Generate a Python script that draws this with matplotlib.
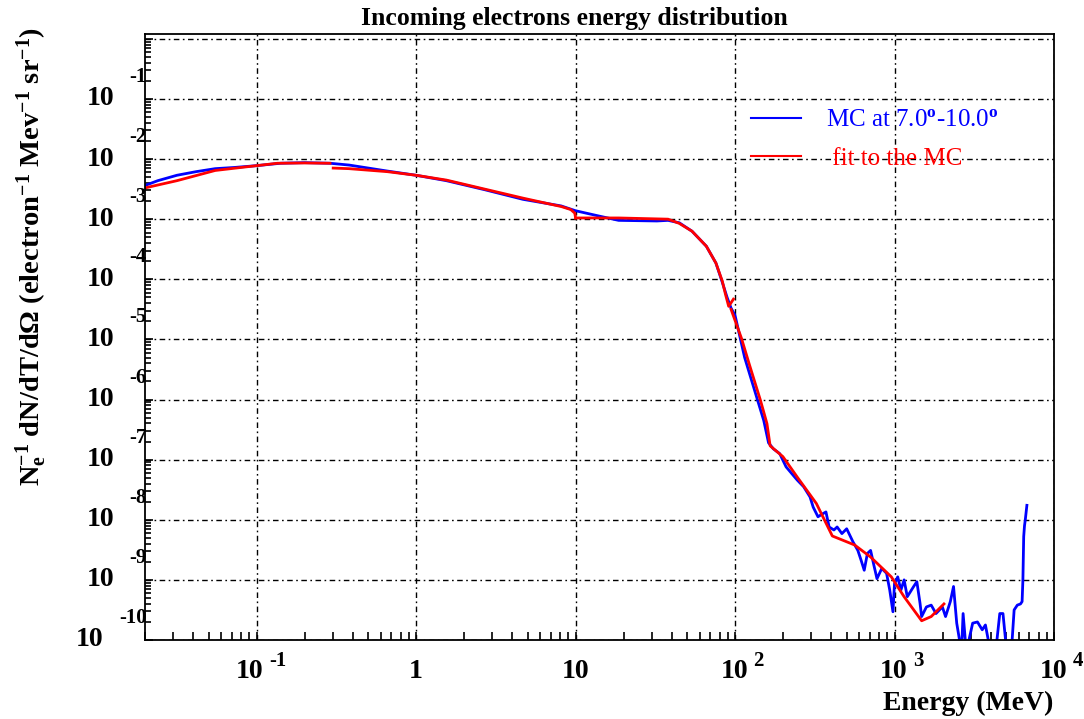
import matplotlib
matplotlib.use("Agg")
import matplotlib.pyplot as plt
import numpy as np
from matplotlib.ticker import LogLocator, NullFormatter

plt.rcParams['font.family'] = ['Liberation Serif', 'DejaVu Serif']
plt.rcParams['mathtext.fontset'] = 'custom'
plt.rcParams['mathtext.rm'] = 'Liberation Serif:bold'
plt.rcParams['mathtext.bf'] = 'Liberation Serif:bold'
plt.rcParams['mathtext.it'] = 'Liberation Serif:bold'
plt.rcParams['mathtext.default'] = 'rm'

# MC histogram, log10(energy / MeV) and log10(value)
mc_logE = [-1.70, -1.62, -1.50, -1.38, -1.26, -1.14, -1.00, -0.85, -0.70, -0.54,
           -0.42, -0.18, 0.00, 0.19, 0.43, 0.67, 0.91, 1.00, 1.15, 1.27,
           1.51, 1.58, 1.65, 1.73, 1.82, 1.88, 1.92, 1.95, 1.975, 2.00,
           2.03, 2.06, 2.10, 2.14, 2.18, 2.21, 2.24, 2.28, 2.32, 2.39,
           2.43, 2.47, 2.49, 2.52, 2.55, 2.57, 2.59, 2.62, 2.64, 2.67,
           2.70, 2.74, 2.77, 2.79, 2.81, 2.83, 2.85, 2.87, 2.89, 2.92,
           2.95, 2.97, 2.99, 3.00, 3.02, 3.04, 3.06, 3.08, 3.12, 3.14,
           3.16, 3.17, 3.20, 3.23, 3.26, 3.30, 3.32, 3.35, 3.37, 3.39,
           3.42, 3.43, 3.45, 3.49, 3.52, 3.55, 3.57, 3.59, 3.63, 3.66,
           3.68, 3.70, 3.73, 3.75, 3.77, 3.79, 3.80, 3.805, 3.81, 3.815,
           3.82, 3.83]
mc_logY = [-2.44, -2.36, -2.27, -2.21, -2.16, -2.14, -2.11, -2.07, -2.06, -2.07,
           -2.10, -2.20, -2.27, -2.36, -2.51, -2.67, -2.78, -2.86, -2.95, -3.02,
           -3.03, -3.02, -3.06, -3.20, -3.45, -3.73, -4.05, -4.30, -4.48, -4.60,
           -4.95, -5.30, -5.65, -6.00, -6.35, -6.72, -6.82, -6.90, -7.12, -7.34,
           -7.45, -7.62, -7.79, -7.95, -7.90, -7.87, -8.12, -8.17, -8.12, -8.23,
           -8.15, -8.37, -8.51, -8.67, -8.84, -8.56, -8.51, -8.75, -8.98, -8.81,
           -8.89, -9.17, -9.53, -9.06, -8.95, -9.17, -9.00, -9.28, -9.11, -9.03,
           -9.39, -9.61, -9.45, -9.42, -9.56, -9.45, -9.61, -9.36, -9.11, -9.72,
           -10.2, -9.56, -10.2, -9.72, -9.70, -9.83, -9.75, -10.03, -10.3, -9.56,
           -9.56, -10.1, -10.3, -9.50, -9.42, -9.40, -9.36, -9.00, -8.28, -8.10,
           -8.00, -7.76]

# piecewise fit, one list per piece
fit_logE = [
    [-1.70, -1.50, -1.26, -1.00, -0.87, -0.70, -0.54],
    [-0.52, -0.42, -0.18, 0.00, 0.19, 0.43, 0.67, 0.91, 0.97, 0.995, 1.00],
    [1.00, 1.27, 1.58, 1.65, 1.73, 1.82, 1.88, 1.92, 1.94, 1.96, 1.99],
    [1.975, 2.04, 2.09, 2.16, 2.20, 2.22, 2.30, 2.39, 2.51, 2.61, 2.75,
     2.85, 2.98, 3.06, 3.17, 3.23, 3.31],
]
fit_logY = [
    [-2.48, -2.36, -2.19, -2.11, -2.07, -2.065, -2.07],
    [-2.15, -2.16, -2.21, -2.27, -2.35, -2.50, -2.65, -2.79, -2.84, -2.90, -2.98],
    [-2.98, -2.98, -3.00, -3.07, -3.20, -3.45, -3.73, -4.03, -4.25, -4.45, -4.33],
    [-4.50, -4.98, -5.42, -6.02, -6.40, -6.77, -6.95, -7.29, -7.73, -8.27, -8.42,
     -8.62, -8.95, -9.28, -9.68, -9.61, -9.40],
]

y_exps = [-1, -2, -3, -4, -5, -6, -7, -8, -9, -10]
x_ticks = [0.1, 1, 10, 100, 1000, 10000]
x_labels = [("10", "-1"), ("1", ""), ("10", ""), ("10", "2"), ("10", "3"), ("10", "4")]

fig = plt.figure(figsize=(10.84, 7.19), dpi=100)
ax = fig.add_axes([145 / 1084, 1 - 640 / 719, 909 / 1084, 606 / 719])

ax.plot(10 ** np.array(mc_logE), 10 ** np.array(mc_logY), color='#0000ff', lw=2,
        label='MC at 7.0$^{\\mathrm{o}}$-10.0$^{\\mathrm{o}}$')
for i in range(len(fit_logE)):
    ax.plot(10 ** np.array(fit_logE[i]), 10 ** np.array(fit_logY[i]), color='#ff0000',
            lw=2, label=' fit to the MC' if i == 0 else None)

ax.set_xscale('log')
ax.set_yscale('log')
ax.set_xlim(10 ** -1.70, 1e4)
ax.set_ylim(1e-10, 10 ** 0.08)

ax.xaxis.set_major_locator(LogLocator(base=10, numticks=20))
ax.yaxis.set_major_locator(LogLocator(base=10, numticks=20))
ax.xaxis.set_minor_locator(LogLocator(base=10, subs=np.arange(2, 10), numticks=20))
ax.yaxis.set_minor_locator(LogLocator(base=10, subs=np.arange(2, 10), numticks=20))
ax.xaxis.set_major_formatter(NullFormatter())
ax.yaxis.set_major_formatter(NullFormatter())
ax.xaxis.set_minor_formatter(NullFormatter())
ax.yaxis.set_minor_formatter(NullFormatter())
ax.tick_params(which='both', direction='in', top=False, right=False, width=1.2)
ax.tick_params(axis='y', which='major', length=6)
ax.tick_params(axis='y', which='minor', length=4)
ax.tick_params(axis='x', which='both', length=6)
for sp in ax.spines.values():
    sp.set_linewidth(1.3)

ax.grid(True, which='major', color='black', lw=1, linestyle=(0, (4, 2.5, 1.2, 2.5)))

# ROOT style tick labels
ytr = ax.get_yaxis_transform()
for e in y_exps:
    s = str(e)
    ax.annotate("10", xy=(0, 10.0 ** e), xycoords=ytr,
                xytext=((-31 - 11 * (len(s) - 2)) * 0.72, 0), textcoords='offset points',
                ha='right', va='center', fontsize=20, fontweight='bold', annotation_clip=False)
    ax.annotate(s, xy=(0, 10.0 ** e), xycoords=ytr, xytext=(2 * 0.72, 22 * 0.72),
                textcoords='offset points', ha='right', va='center', fontsize=15,
                fontweight='bold', annotation_clip=False)

xtr = ax.get_xaxis_transform()
for t, (base, ex) in zip(x_ticks, x_labels):
    if ex == "":
        ax.annotate(base, xy=(t, 0), xycoords=xtr, xytext=(0, -32 * 0.72),
                    textcoords='offset points', ha='center', va='center', fontsize=20,
                    fontweight='bold', annotation_clip=False)
    else:
        ew = 12 * len(ex) - 4
        w = 27 + 6 + ew
        left = 6 - w / 2
        ax.annotate(base, xy=(t, 0), xycoords=xtr, xytext=(left * 0.72, -32 * 0.72),
                    textcoords='offset points', ha='left', va='center', fontsize=20,
                    fontweight='bold', annotation_clip=False)
        ax.annotate(ex, xy=(t, 0), xycoords=xtr, xytext=((left + 33) * 0.72, -21 * 0.72),
                    textcoords='offset points', ha='left', va='center', fontsize=15,
                    fontweight='bold', annotation_clip=False)

fig.text(1053 / 1084, 1 - 703 / 719, "Energy (MeV)", ha='right', va='center',
         fontsize=20, fontweight='bold')
fig.text(32 / 1084, 1 - 27 / 719,
         "N$_{e}^{-1}$ dN/dT/d\u03a9 (electron$^{-1}$ Mev$^{-1}$ sr$^{-1}$)",
         rotation=90, ha='center', va='top', fontsize=20.5, fontweight='bold')
fig.text(574 / 1084, 1 - 18 / 719, "Incoming electrons energy distribution",
         ha='center', va='center', fontsize=18.5, fontweight='bold')

leg = ax.legend(loc='upper left', bbox_to_anchor=((751 - 145) / 909, (640 - 109) / 606),
                frameon=False, fontsize=18, handlelength=2.0, handletextpad=1.0,
                labelspacing=0.63, borderaxespad=0, borderpad=0)
for txt, ln in zip(leg.get_texts(), leg.get_lines()):
    txt.set_color(ln.get_color())
    txt.set_fontweight('normal')
for ln in leg.get_lines():
    ln.set_linewidth(1.5)

fig.savefig("out.png", dpi=100)
